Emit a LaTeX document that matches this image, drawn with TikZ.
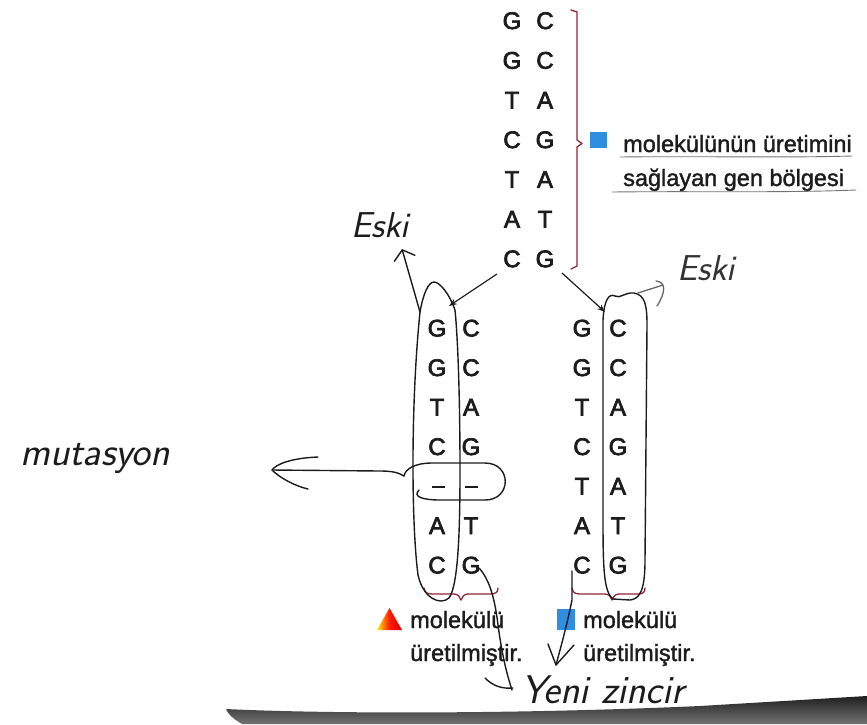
\documentclass[tikz,border=0pt]{standalone}
\usepackage{fontspec}
\setmainfont{Liberation Sans}
\newfontfamily\letterfont[FakeBold=3]{Liberation Sans}
\newfontfamily\legendfont[FakeBold=1.5]{Liberation Sans}
\usetikzlibrary{arrows.meta}
\definecolor{maroon}{HTML}{8E2538}
\definecolor{sqblue}{HTML}{2E8EE0}
\definecolor{ink}{HTML}{1C1C1C}
\begin{document}
\begin{tikzpicture}[x=1pt,y=-1pt,
  base/.style={font=\letterfont\fontsize{24}{28}\selectfont, inner sep=0pt, anchor=base, text=ink},
  legend/.style={font=\legendfont\fontsize{23.5}{28}\selectfont, inner sep=0pt, anchor=base west, text=ink},
  handtext/.style={font=\fontsize{36}{40}\selectfont\sffamily\itshape, inner sep=0pt, text=ink},
  hand/.style={line width=1.4pt, ink, line cap=round, line join=round},
  printarrow/.style={line width=1.2pt, ink, -{Stealth[length=8pt,width=6pt]}},
  bracket/.style={line width=1.3pt, maroon, line cap=round, line join=round},
  pencil/.style={line width=0.9pt, black!55, line cap=round}]
\useasboundingbox (0,0) rectangle (867,724);

% bottom dark band (paper edge)
\shade[top color=black!88, bottom color=black!55]
  (226,709) .. controls (330,714) and (520,714) .. (700,706) -- (867,696) -- (867,724) -- (242,724) .. controls (232,718) and (228,714) .. (226,709) -- cycle;

% top double strand
\foreach \l/\r [count=\i] in {G/C,G/C,T/A,C/G,T/A,A/T,C/G} {
  \node[base] (tl\i) at (512,{29+(\i-1)*39.7}) {\l};
  \node[base] (tr\i) at (545,{29+(\i-1)*39.7}) {\r};
}
% top bracket
\draw[bracket] (571,10) -- (577,12) -- (577,140) -- (582,143.5) -- (577,147) -- (577,266) -- (571,269);
\fill[sqblue] (590,132) rectangle (607,148);
\node[legend] (gen1) at (623,152) {molekülünün üretimini};
\node[legend] (gen2) at (623,186) {sağlayan gen bölgesi};
\draw[pencil] (620,157) .. controls (700,156) and (780,158) .. (852,156);
\draw[pencil] (612,192) .. controls (700,191) and (780,193) .. (856,190);

% lower left strand
\foreach \l/\r/\i in {G/C/1,G/C/2,T/A/3,C/G/4,A/T/6,C/G/7} {
  \node[base] (ll\i) at (437,{336.5+(\i-1)*39.5}) {\l};
  \node[base] (lr\i) at (471,{336.5+(\i-1)*39.5}) {\r};
}
\draw[line width=2.4pt, ink] (432,487) -- (445,487);
\draw[line width=2.4pt, ink] (465,487) -- (478,487);

% lower right strand
\foreach \l/\r [count=\i] in {G/C,G/C,T/A,C/G,T/A,A/T,C/G} {
  \node[base] (rl\i) at (582,{336.5+(\i-1)*39.5}) {\l};
  \node[base] (rr\i) at (618,{336.5+(\i-1)*39.5}) {\r};
}

% printed arrows from the top strand
\coordinate (la) at (497,274);
\coordinate (lb) at (449,306);
\coordinate (ra) at (562,273);
\coordinate (rb) at (605,312);
\draw[printarrow] (la) -- (lb);
\draw[printarrow] (ra) -- (rb);

% bottom braces
\draw[bracket] (424,588) .. controls (425,594) and (428,594) .. (436,594) -- (454,594) .. controls (458,594) and (460,597) .. (461,600)
  .. controls (462,597) and (464,594) .. (468,594) -- (490,594) .. controls (496,594) and (498,592) .. (498,588);
\draw[bracket] (572,588) .. controls (573,594) and (576,594) .. (584,594) -- (605,594) .. controls (609,594) and (611,597) .. (612,600)
  .. controls (613,597) and (615,594) .. (619,594) -- (638,594) .. controls (643,594) and (645,592) .. (645,588);

% legends
\shade[left color=yellow!85!orange, right color=red!85!black, middle color=red!80!orange]
  (377,630) -- (389.5,608) -- (402,630) -- cycle;
\node[legend] (m1) at (410,628) {molekülü};
\node[legend] (u1) at (410,661) {üretilmiştir.};
\fill[sqblue] (557,609) rectangle (575,630);
\node[legend] (m2) at (583,628) {molekülü};
\node[legend] (u2) at (583,661) {üretilmiştir.};

% ---------- hand-drawn annotations ----------
% left loop (old strand)
\coordinate (lt) at (420,312);
\draw[hand] (lt) .. controls (411,400) and (411,520) .. (418,575)
  .. controls (423,598) and (440,606) .. (449,598)
  .. controls (459,585) and (460,520) .. (460,470)
  .. controls (460,400) and (458,340) .. (455,310)
  .. controls (450,295) and (440,282) .. (434,282)
  .. controls (428,282) and (423,295) .. (lt);
\coordinate (ek1) at (402,249);
\draw[hand, -{Straight Barb[length=9pt,width=22pt]}] (lt) -- (ek1);
\node[handtext] (eskiL) at (380,225) {Eski};

% right loop (old strand)
\draw[hand] (613,599) .. controls (604,592) and (603,570) .. (603,520) -- (603,320)
  .. controls (604,300) and (609,293) .. (615,296)
  .. controls (620,299) and (625,292) .. (634,293)
  .. controls (645,295) and (647,305) .. (647,325) -- (645,560)
  .. controls (645,590) and (640,599) .. (630,600) -- (613,599);
\coordinate (gs) at (638,293);
\coordinate (ge) at (663,285);
\draw[line width=1.3pt, black!60, line cap=round] (gs) -- (ge);
\draw[line width=1.3pt, black!60, line cap=round] (656,281) .. controls (666,282) and (666,292) .. (657,306);
\node[handtext, text=black!80] (eskiR) at (706,268) {Eski};

% mutation ellipse and arrow
\coordinate (mu) at (404,476);
\draw[hand] (419,490) .. controls (412,497) and (424,500) .. (440,500) -- (485,500)
  .. controls (512,500) and (512,463) .. (485,463) -- (432,463)
  .. controls (415,463) and (405,469) .. (mu);
\coordinate (mt) at (272,470);
\draw[hand] (mu) .. controls (398,472) and (390,471) .. (380,471) -- (mt);
\draw[hand] (318,457) .. controls (292,458) and (276,464) .. (mt) .. controls (280,478) and (295,486) .. (308,489);
\node[handtext, font=\fontsize{40}{44}\selectfont\sffamily\itshape] (muta) at (95,458) {mutasyon};

% new strand arrows
\coordinate (g7) at (479,568);
\coordinate (yz) at (512,690);
\draw[hand] (g7) .. controls (490,580) and (495,600) .. (498,625) .. controls (502,655) and (507,675) .. (yz);
\draw[hand] (485,678) .. controls (493,686) and (502,689) .. (513,688);
\coordinate (c7) at (572,571);
\coordinate (vt) at (556,665);
\draw[hand] (c7) -- (572,600) .. controls (567,625) and (560,650) .. (vt);
\draw[hand] (548,644) -- (vt) -- (574,645);
\node[handtext, font=\fontsize{40}{44}\selectfont\sffamily\itshape] (yeni) at (603,690) {Yeni zincir};

\end{tikzpicture}
\end{document}
